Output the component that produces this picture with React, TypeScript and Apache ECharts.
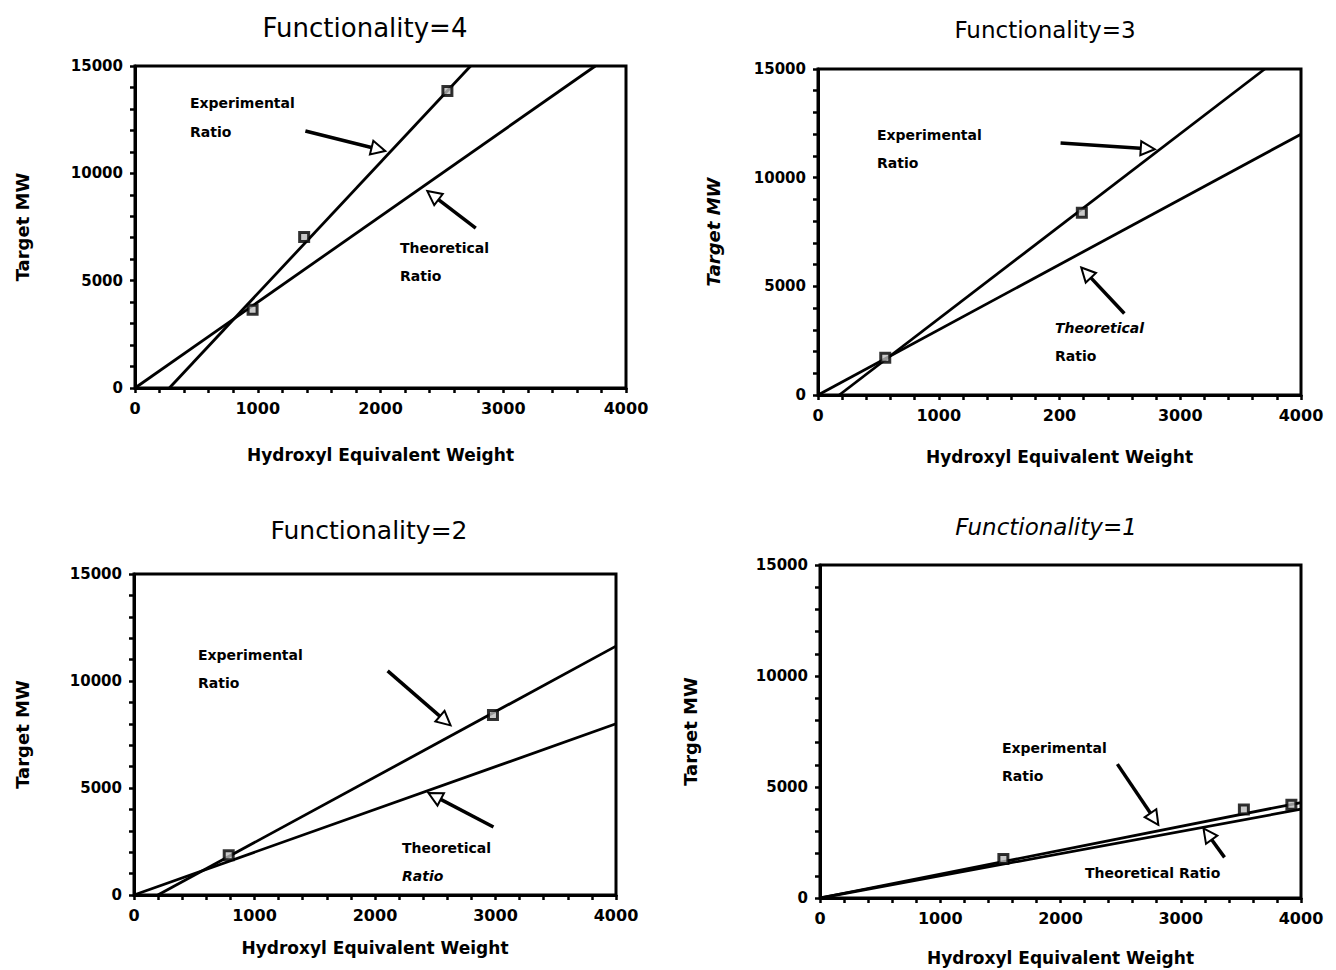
import React, { useEffect, useRef } from "react";
import * as echarts from "echarts";

// ---------- data ----------
// Functionality = 4
const f4Points = [[958, 3650], [1378, 7030], [2545, 13840]];
const f4ExpLine = [[280, 0], [2734, 15000]];
const f4TheoLine = [[0, 0], [3750, 15000]];
const f4ExpArrow = [[1388, 11970], [1983, 11120]];
const f4TheoArrow = [[2776, 7450], [2427, 8975]];

// Functionality = 3
const f3Points = [[557, 1710], [2185, 8390]];
const f3ExpLine = [[176, 0], [3700, 15000]];
const f3TheoLine = [[0, 0], [4000, 12000]];
const f3ExpArrow = [[2009, 11600], [2731, 11330]];
const f3TheoArrow = [[2537, 3750], [2220, 5630]];

// Functionality = 2
const f2Points = [[786, 1860], [2979, 8410]];
const f2ExpLine = [[198, 0], [4000, 11630]];
const f2TheoLine = [[0, 0], [4000, 8000]];
const f2ExpArrow = [[2105, 10470], [2583, 8140]];
const f2TheoArrow = [[2983, 3180], [2494, 4620]];

// Functionality = 1
const f1Points = [[1525, 1760], [3525, 3990], [3920, 4200]];
const f1ExpLine = [[0, 0], [4000, 4300]];
const f1TheoLine = [[0, 0], [4000, 4000]];
const f1ExpArrow = [[2473, 6030], [2781, 3560]];
const f1TheoArrow = [[3364, 1830], [3223, 2880]];

const titles = ["Functionality=4", "Functionality=3", "Functionality=2", "Functionality=1"];
const xName = "Hydroxyl Equivalent Weight";
const yName = "Target MW";
const xMin = 0, xMax = 4000, xStep = 200, xLabelStep = 1000;
const yMin = 0, yMax = 15000, yStep = 1000, yLabelStep = 5000;

const FONT = '"DejaVu Sans", "Liberation Sans", sans-serif';

const panels = [
  { title: titles[0], points: f4Points, exp: f4ExpLine, theo: f4TheoLine, arrows: [f4ExpArrow, f4TheoArrow],
    grid: { left: 135, top: 66, width: 491, height: 322 }, xGap: 58, yGap: 104, yItalic: false, typo: false },
  { title: titles[1], points: f3Points, exp: f3ExpLine, theo: f3TheoLine, arrows: [f3ExpArrow, f3TheoArrow],
    grid: { left: 818, top: 69, width: 483, height: 326 }, xGap: 53, yGap: 96, yItalic: true, typo: true },
  { title: titles[2], points: f2Points, exp: f2ExpLine, theo: f2TheoLine, arrows: [f2ExpArrow, f2TheoArrow],
    grid: { left: 134, top: 574, width: 482, height: 321 }, xGap: 44, yGap: 103, yItalic: false, typo: false },
  { title: titles[3], points: f1Points, exp: f1ExpLine, theo: f1TheoLine, arrows: [f1ExpArrow, f1TheoArrow],
    grid: { left: 820, top: 565, width: 481, height: 333 }, xGap: 51, yGap: 121, yItalic: false, typo: false },
];

// text annotations (layout)
const titleLayout = [
  { x: 365, y: 28, size: 26, italic: false },
  { x: 1045, y: 30, size: 23, italic: false },
  { x: 369, y: 530, size: 25, italic: false },
  { x: 1046, y: 527, size: 23, italic: true },
];
const notes = [
  { text: "Experimental", x: 190, y: 103, italic: false },
  { text: "Ratio", x: 190, y: 132, italic: false },
  { text: "Theoretical", x: 400, y: 248, italic: false },
  { text: "Ratio", x: 400, y: 276, italic: false },
  { text: "Experimental", x: 877, y: 135, italic: false },
  { text: "Ratio", x: 877, y: 163, italic: false },
  { text: "Theoretical", x: 1055, y: 328, italic: true },
  { text: "Ratio", x: 1055, y: 356, italic: false },
  { text: "Experimental", x: 198, y: 655, italic: false },
  { text: "Ratio", x: 198, y: 683, italic: false },
  { text: "Theoretical", x: 402, y: 848, italic: false },
  { text: "Ratio", x: 402, y: 876, italic: true },
  { text: "Experimental", x: 1002, y: 748, italic: false },
  { text: "Ratio", x: 1002, y: 776, italic: false },
  { text: "Theoretical Ratio", x: 1085, y: 873, italic: false },
];

function buildOption() {
  const grid: any[] = [];
  const xAxis: any[] = [];
  const yAxis: any[] = [];
  const series: any[] = [];
  panels.forEach((p, i) => {
    grid.push({ ...p.grid, show: true, borderColor: "#000", borderWidth: 3, backgroundColor: "transparent" });
    xAxis.push({
      type: "value", gridIndex: i, min: xMin, max: xMax, interval: xStep,
      name: xName, nameLocation: "middle", nameGap: p.xGap,
      nameTextStyle: { color: "#000", fontFamily: FONT, fontWeight: "bold", fontSize: 17 },
      axisLine: { show: true, lineStyle: { color: "#000", width: 3 } },
      axisTick: { show: true, inside: false, length: 5, lineStyle: { color: "#000", width: 2.5 } },
      axisLabel: {
        color: "#000", fontFamily: FONT, fontWeight: "bold", fontSize: 16, margin: 12,
        formatter: (v: number) => (v % xLabelStep === 0 ? (p.typo && v === 2000 ? "200" : String(v)) : ""),
      },
      splitLine: { show: false },
    });
    yAxis.push({
      type: "value", gridIndex: i, min: yMin, max: yMax, interval: yStep,
      name: yName, nameLocation: "middle", nameGap: p.yGap, nameRotate: 90,
      nameTextStyle: { color: "#000", fontFamily: FONT, fontWeight: "bold", fontSize: 18, fontStyle: p.yItalic ? "italic" : "normal" },
      axisLine: { show: true, lineStyle: { color: "#000", width: 3 } },
      axisTick: { show: true, inside: false, length: 5, lineStyle: { color: "#000", width: 2.5 } },
      axisLabel: {
        color: "#000", fontFamily: FONT, fontWeight: "bold", fontSize: 15, margin: 12,
        formatter: (v: number) => (v % yLabelStep === 0 ? String(v) : ""),
      },
      splitLine: { show: false },
    });
    const lineStyle = { color: "#000", width: 2.8 };
    series.push({
      type: "line", name: "Theoretical Ratio", xAxisIndex: i, yAxisIndex: i, data: p.theo,
      symbol: "none", lineStyle, silent: true,
    });
    series.push({
      type: "line", name: "Experimental Ratio", xAxisIndex: i, yAxisIndex: i, data: p.exp,
      symbol: "none", lineStyle, silent: true,
    });
    series.push({
      type: "scatter", name: "Experimental", xAxisIndex: i, yAxisIndex: i, data: p.points,
      symbol: "rect", symbolSize: 9,
      itemStyle: { color: "#bbb", borderColor: "#000", borderWidth: 3 },
      z: 5,
      markLine: {
        silent: true,
        symbol: ["none", "emptyTriangle"],
        symbolSize: 14,
        label: { show: false },
        lineStyle: { color: "#000", width: 3.5, type: "solid" },
        data: p.arrows.map((a) => [{ coord: a[0] }, { coord: a[1] }]),
      },
    });
  });

  const graphic: any[] = [];
  panels.forEach((p, i) => {
    const t = titleLayout[i];
    graphic.push({
      type: "text", x: t.x, y: t.y,
      style: {
        text: p.title, fill: "#000", font: `${t.italic ? "italic " : ""}normal ${t.size}px ${FONT}`,
        align: "center", verticalAlign: "middle",
      },
    });
  });
  notes.forEach((n) => {
    graphic.push({
      type: "text", x: n.x, y: n.y, z: 10,
      style: {
        text: n.text, fill: "#000", font: `${n.italic ? "italic " : ""}bold 14px ${FONT}`,
        align: "left", verticalAlign: "middle",
      },
    });
  });

  return { animation: false, backgroundColor: "#fff", grid, xAxis, yAxis, series, graphic };
}

export default function App() {
  const ref = useRef<HTMLDivElement>(null);
  useEffect(() => {
    if (!ref.current) return;
    const chart = echarts.init(ref.current, undefined, { renderer: "svg" });
    chart.setOption(buildOption());
    return () => chart.dispose();
  }, []);
  return (
    <div
      ref={ref}
      style={{ position: "absolute", left: 0, top: 0, width: 1336, height: 970, background: "#fff" }}
    />
  );
}
